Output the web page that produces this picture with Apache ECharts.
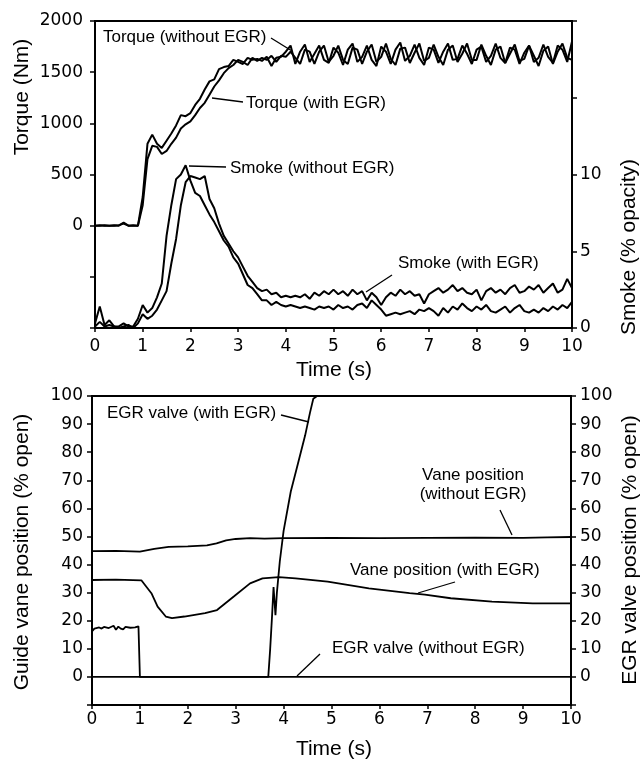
<!DOCTYPE html>
<html><head><meta charset="utf-8">
<script src="https://cdn.jsdelivr.net/npm/echarts@6/dist/echarts.min.js"></script>
<style>html,body{margin:0;padding:0;background:#fff}#c{width:642px;height:759px}</style>
</head><body><div id="c"></div>
<script>
// ---- Top panel: sampled every 0.1 s ----
const time = [0,0.1,0.2,0.3,0.4,0.5,0.6,0.7,0.8,0.9,
1.0,1.1,1.2,1.3,1.4,1.5,1.6,1.7,1.8,1.9,
2.0,2.1,2.2,2.3,2.4,2.5,2.6,2.7,2.8,2.9,
3.0,3.1,3.2,3.3,3.4,3.5,3.6,3.7,3.8,3.9,
4.0,4.1,4.2,4.3,4.4,4.5,4.6,4.7,4.8,4.9,
5.0,5.1,5.2,5.3,5.4,5.5,5.6,5.7,5.8,5.9,
6.0,6.1,6.2,6.3,6.4,6.5,6.6,6.7,6.8,6.9,
7.0,7.1,7.2,7.3,7.4,7.5,7.6,7.7,7.8,7.9,
8.0,8.1,8.2,8.3,8.4,8.5,8.6,8.7,8.8,8.9,
9.0,9.1,9.2,9.3,9.4,9.5,9.6,9.7,9.8,9.9,10.0];
const torqueWithoutEGR = [0,5,0,0,5,0,30,0,5,0,
280,800,890,800,760,830,900,980,1080,1070,
1100,1180,1240,1330,1410,1430,1530,1550,1560,1620,
1600,1580,1640,1620,1630,1610,1650,1560,1640,1650,
1700,1760,1580,1700,1770,1600,1680,1760,1620,1590,
1740,1690,1570,1720,1780,1600,1650,1760,1620,1560,
1750,1700,1580,1720,1790,1610,1660,1770,1640,1570,
1740,1720,1590,1700,1780,1620,1630,1760,1680,1580,
1720,1750,1600,1660,1780,1640,1590,1740,1720,1580,
1690,1760,1600,1640,1770,1650,1590,1760,1720,1600,1800];
const torqueWithEGR = [0,0,5,0,0,5,20,0,0,0,
200,650,780,770,700,730,800,860,950,990,
1020,1080,1150,1200,1280,1360,1420,1490,1540,1570,
1620,1600,1570,1640,1610,1640,1620,1660,1600,1660,
1650,1700,1640,1580,1720,1700,1580,1700,1760,1600,
1660,1760,1620,1580,1740,1720,1580,1700,1770,1600,
1650,1780,1630,1570,1730,1740,1590,1690,1780,1610,
1640,1770,1650,1570,1720,1760,1600,1680,1780,1620,
1620,1770,1660,1570,1720,1750,1590,1680,1770,1610,
1630,1760,1660,1560,1710,1750,1580,1700,1780,1640,1620];
const smokeWithoutEGR = [0.3,1.4,0.2,0.5,0.1,0.1,0.3,0.1,0.1,0.6,
1.5,1.0,1.3,2.0,2.9,6.0,8.0,9.7,10.0,10.6,
9.6,8.8,8.6,8.0,7.4,6.9,6.3,5.7,5.3,4.6,
4.2,3.5,2.8,2.6,2.2,1.8,1.8,1.5,1.7,1.5,
1.4,1.5,1.4,1.3,1.4,1.3,1.2,1.4,1.3,1.4,
1.2,1.5,1.3,1.4,1.2,1.5,1.6,1.3,1.8,1.5,
1.2,0.8,0.9,1.0,0.9,1.0,1.1,0.9,1.2,1.1,
1.3,1.1,0.8,1.3,1.0,1.4,1.2,1.6,1.3,1.1,
1.4,1.2,1.5,1.1,1.0,1.2,1.4,1.0,1.3,1.5,
1.1,1.0,1.2,1.0,1.3,1.1,1.4,1.2,1.5,1.3,1.7];
const smokeWithEGR = [0.1,0.4,0.1,0.2,0.1,0.0,0.1,0.2,0.0,0.3,
0.9,0.6,0.8,1.2,1.8,2.4,4.2,5.8,8.0,9.5,
9.9,9.8,9.7,9.9,8.4,7.8,6.8,6.0,5.5,5.0,
4.6,4.0,3.4,3.0,2.6,2.4,2.5,2.2,2.3,2.0,
2.1,2.0,2.1,2.0,2.2,1.9,2.3,2.1,2.4,2.2,
2.5,2.2,2.4,2.1,2.5,2.2,2.4,1.8,2.3,2.0,
1.5,2.0,2.3,2.1,2.5,2.2,2.4,2.1,2.2,1.6,
2.2,2.4,2.6,2.3,2.5,2.8,2.4,2.6,2.3,2.2,
2.5,1.8,2.4,2.6,2.3,2.5,2.2,2.6,2.8,2.3,
2.4,2.7,2.5,2.8,2.3,2.6,2.9,2.3,2.5,3.2,2.6];

// ---- Bottom panel ----
const egrWithT = [0,0.05,0.15,0.2,0.25,0.35,0.45,0.5,0.55,0.6,0.65,0.7,0.8,0.9,0.97,1.0,3.68,3.72,3.76,3.79,3.81,3.83,3.86,3.92,4.0,4.15,4.3,4.45,4.55,4.62,4.7,10];
const egrWithV = [16.2,17.2,17.6,17.2,17.8,17.4,18.2,16.8,17.9,17.2,16.9,17.8,17.5,17.6,18.0,0,0,10,22,32,27,22,30,41,52,66,76,86,94,99,100,100];
const egrWithoutT = [0,10];
const egrWithoutV = [0,0];
const vaneWithoutT = [0,0.5,1.0,1.3,1.6,2.0,2.4,2.6,2.8,3.0,3.3,3.6,4.0,5,6,7,8,9,9.5,10];
const vaneWithoutV = [44.8,44.9,44.6,45.6,46.3,46.5,46.8,47.5,48.6,49.1,49.4,49.2,49.4,49.5,49.4,49.5,49.6,49.5,49.7,49.8];
const vaneWithT = [0,0.5,1.03,1.24,1.37,1.54,1.67,1.93,2.36,2.61,2.96,3.3,3.56,3.9,4.25,4.92,5.78,6.63,6.95,7.49,8.35,9.2,10];
const vaneWithV = [34.5,34.6,34.4,29.8,25,21.5,20.9,21.5,22.7,23.8,28.6,33.3,35.1,35.5,35.1,33.9,31.5,29.8,29.3,28,26.8,26.2,26.2];

const pairs = (t, v) => t.map((x, i) => [x, v[i]]);
const TICKF = 'DejaVu Sans';
const TXTF = '"Liberation Sans", Arial, sans-serif';

function xAx(gi, margin) {
  return {type:'value', gridIndex:gi, min:0, max:10, interval:1,
    axisLine:{onZero:false, lineStyle:{color:'#000', width:2}},
    axisTick:{length:4, lineStyle:{color:'#000', width:1.5}},
    axisLabel:{margin:margin, color:'#000', fontFamily:TICKF, fontSize:17},
    splitLine:{show:false}};
}
function yAx(gi, pos, min, max, interval, margin, fmt) {
  return {type:'value', gridIndex:gi, position:pos, min:min, max:max, interval:interval,
    axisLine:{show:true, onZero:false, lineStyle:{color:'#000', width:2}},
    axisTick:{show:true, length:5, lineStyle:{color:'#000', width:1.5}},
    axisLabel:{margin:margin, color:'#000', fontFamily:TICKF, fontSize:17, formatter:fmt},
    splitLine:{show:false}};
}
const lineS = (name, xi, yi, data, w) => ({name:name, type:'line', xAxisIndex:xi, yAxisIndex:yi,
  data:data, showSymbol:false, symbol:'none', lineStyle:{color:'#000', width:w}, z:3});

const txt = (s, x, y, size, align) => ({type:'text', x:x, y:y,
  style:{text:s, fill:'#000', font: size + 'px ' + TXTF, textAlign:align || 'left', textVerticalAlign:'middle'}});
const vtxt = (s, x, y, size) => ({type:'text', x:x, y:y, rotation:Math.PI/2,
  style:{text:s, fill:'#000', font: size + 'px ' + TXTF, textAlign:'center', textVerticalAlign:'middle'}});
const ln = (x1, y1, x2, y2) => ({type:'line', shape:{x1:x1, y1:y1, x2:x2, y2:y2}, style:{stroke:'#000', lineWidth:1.3}});

const chart = echarts.init(document.getElementById('c'), null, {renderer:'canvas'});
chart.setOption({
  animation:false,
  backgroundColor:'#fff',
  grid:[
    {left:95, top:21, width:477, height:307, show:true, borderColor:'#000', borderWidth:2},
    {left:92, top:396, width:479, height:309, show:true, borderColor:'#000', borderWidth:2}
  ],
  xAxis:[xAx(0, 10), xAx(1, 6)],
  yAxis:[
    yAx(0, 'left', -1000, 2000, 500, 12, v => v < 0 ? '' : String(v)),
    yAx(0, 'right', 0, 20, 5, 8, v => v <= 10 ? String(v) : ''),
    yAx(1, 'left', -10, 100, 10, 9, v => v < 0 ? '' : String(v)),
    yAx(1, 'right', -10, 100, 10, 9, v => v < 0 ? '' : String(v))
  ],
  series:[
    lineS('Torque (without EGR)', 0, 0, pairs(time, torqueWithoutEGR), 2),
    lineS('Torque (with EGR)', 0, 0, pairs(time, torqueWithEGR), 2),
    lineS('Smoke (without EGR)', 0, 1, pairs(time, smokeWithoutEGR), 2),
    lineS('Smoke (with EGR)', 0, 1, pairs(time, smokeWithEGR), 2),
    lineS('EGR valve (with EGR)', 1, 3, pairs(egrWithT, egrWithV), 1.8),
    lineS('EGR valve (without EGR)', 1, 3, pairs(egrWithoutT, egrWithoutV), 1.8),
    lineS('Vane position (without EGR)', 1, 2, pairs(vaneWithoutT, vaneWithoutV), 1.8),
    lineS('Vane position (with EGR)', 1, 2, pairs(vaneWithT, vaneWithV), 1.8)
  ],
  graphic:[
    vtxt('Torque (Nm)', 22, 97, 21),
    vtxt('Smoke (% opacity)', 629, 247, 21),
    txt('Time (s)', 334, 370, 21, 'center'),
    vtxt('Guide vane position (% open)', 22, 552, 21),
    vtxt('EGR valve position (% open)', 630, 550, 21),
    txt('Time (s)', 334, 749, 21, 'center'),

    txt('Torque (without EGR)', 103, 37, 17), ln(271, 38, 292, 51),
    txt('Torque (with EGR)', 246, 103, 17), ln(243, 102, 212, 98),
    txt('Smoke (without EGR)', 230, 168, 17), ln(226, 167, 189, 166),
    txt('Smoke (with EGR)', 398, 263, 17), ln(392, 275, 366, 292),

    txt('EGR valve (with EGR)', 107, 413, 17), ln(281, 415, 309, 422),
    txt('Vane position', 473, 475, 17, 'center'),
    txt('(without EGR)', 473, 494, 17, 'center'),
    ln(500, 510, 512, 535),
    txt('Vane position (with EGR)', 350, 570, 17), ln(455, 582, 418, 593),
    txt('EGR valve (without EGR)', 332, 648, 17), ln(320, 654, 297, 676)
  ]
});
</script></body></html>
